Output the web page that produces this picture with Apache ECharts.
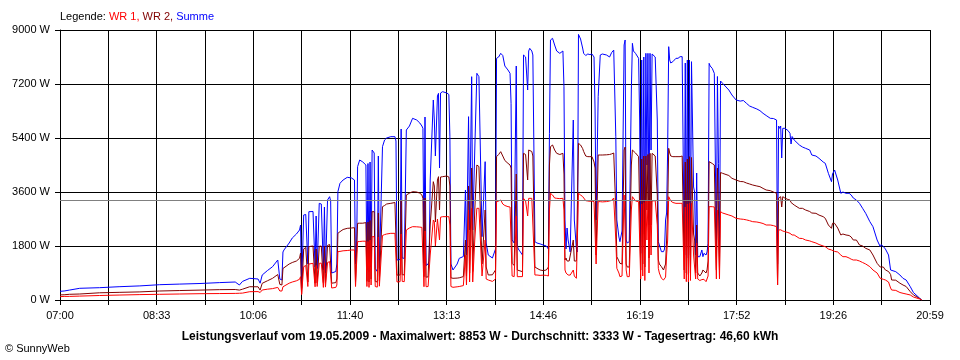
<!DOCTYPE html>
<html>
<head>
<meta charset="utf-8">
<script src="https://cdn.jsdelivr.net/npm/echarts@6/dist/echarts.min.js"></script>
<style>
html,body{margin:0;padding:0;background:#fff;}
#chart{width:960px;height:360px;}
</style>
</head>
<body>
<div id="chart"></div>
<script>
// ---- data ----
const times = [
'07:00','07:04','07:09','07:19','07:38','07:57','08:17','08:36','08:55','09:15',
'09:34','09:49','09:53','09:56','10:03','10:11','10:13','10:15','10:20','10:25',
'10:30','10:32','10:34','10:35','10:36','10:41','10:44','10:48','10:51','10:52',
'10:53','10:55','10:57','10:59','11:00','11:04','11:06','11:07','11:08','11:10',
'11:12','11:14','11:15','11:16','11:18','11:20','11:21','11:22','11:26','11:27',
'11:28','11:30','11:33','11:37','11:41','11:44','11:45','11:46','11:47','11:49',
'11:52','11:55','11:56','11:57','11:58','11:59','12:00','12:01','12:03','12:04',
'12:06','12:07','12:08','12:09','12:11','12:13','12:15','12:19','12:23','12:24',
'12:25','12:28','12:29','12:30','12:32','12:33','12:34','12:37','12:40','12:44',
'12:47','12:49','12:50','12:51','12:52','12:53','12:55','12:56','12:57','13:00',
'13:01','13:02','13:04','13:05','13:06','13:07','13:09','13:13','13:15','13:16',
'13:17','13:19','13:23','13:25','13:29','13:31','13:32','13:34','13:35','13:37',
'13:38','13:40','13:42','13:44','13:45','13:47','13:50','13:51','13:53','13:54',
'13:57','14:00','14:01','14:03','14:05','14:07','14:09','14:12','14:14','14:15',
'14:16','14:18','14:20','14:21','14:22','14:26','14:27','14:29','14:31','14:32',
'14:33','14:35','14:36','14:38','14:40','14:43','14:46','14:49','14:51','14:52',
'14:53','14:55','14:57','14:59','15:02','15:05','15:06','15:07','15:08','15:09',
'15:10','15:11','15:12','15:15','15:16','15:18','15:19','15:20','15:22','15:24',
'15:25','15:27','15:29','15:31','15:33','15:35','15:36','15:37','15:39','15:41',
'15:43','15:47','15:50','15:52','15:54','15:55','15:56','15:57','15:59','16:00',
'16:02','16:04','16:05','16:06','16:07','16:09','16:11','16:12','16:13','16:15',
'16:18','16:19','16:20','16:21','16:22','16:23','16:24','16:25','16:26','16:27',
'16:28','16:29','16:30','16:31','16:32','16:34','16:35','16:36','16:37','16:38',
'16:40','16:42','16:43','16:44','16:45','16:46','16:47','16:48','16:49','16:51',
'16:54','16:56','16:58','16:59','17:00','17:01','17:02','17:03','17:04','17:05',
'17:06','17:07','17:08','17:09','17:10','17:11','17:12','17:13','17:14','17:15',
'17:17','17:18','17:19','17:20','17:21','17:23','17:24','17:25','17:26','17:27',
'17:29','17:31','17:32','17:33','17:34','17:35','17:36','17:37','17:39','17:45',
'17:48','17:52','17:56','17:59','18:02','18:05','18:08','18:12','18:15','18:18',
'18:21','18:25','18:28','18:31','18:32','18:33','18:34','18:35','18:36','18:37',
'18:39','18:42','18:44','18:45','18:46','18:48','18:53','18:56','18:59','19:03',
'19:05','19:09','19:12','19:16','19:18','19:21','19:24','19:25','19:27','19:30',
'19:33','19:35','19:38','19:41','19:43','19:45','19:48','19:51','19:54','19:57',
'20:01','20:04','20:08','20:11','20:12','20:14','20:16','20:19','20:21','20:22',
'20:26','20:30','20:33','20:36','20:40','20:43','20:49','20:51'
];
const wr1 = [
110,120,120,130,150,165,180,190,200,210,
215,220,225,230,277,280,250,333,360,380,
420,300,300,440,443,560,600,640,690,777,
180,1110,1150,450,1200,1222,440,1150,450,1222,
1230,420,1240,430,1250,1280,1250,400,420,500,
1611,1620,1640,1650,1667,1667,450,500,1944,1950,
1960,1960,450,1950,420,2000,500,2111,2111,450,
430,2100,460,420,2150,2180,2200,2222,2222,2200,
600,611,2200,620,611,620,2333,2400,2444,2440,
2430,2420,2400,443,2300,443,450,480,1500,2667,
2600,1800,2700,2750,2000,2760,2778,2778,2778,2500,
450,423,440,450,480,1500,500,3000,600,3056,
600,2000,3056,3056,3000,800,2000,700,667,611,
620,700,3278,3300,3333,3200,3150,3111,3100,3050,
800,780,2800,777,780,780,3389,3300,2800,3389,
3389,3389,3350,833,833,820,830,820,800,3000,
3556,3500,3400,3389,3380,3389,3000,1000,900,850,
833,830,830,1000,800,723,723,3556,3500,3450,
3389,3311,3300,3290,3300,3280,3278,1200,3278,3278,
3270,3280,3300,3320,3400,3444,2000,1056,900,777,
800,3500,3500,1000,777,780,3000,3444,3400,3300,
3278,2000,700,3200,800,3250,650,3300,2000,3300,
900,3300,1500,3300,3320,3311,3300,2500,1056,900,
723,667,700,760,1500,2000,3444,3400,3300,3250,
3222,3222,3222,3222,3222,3222,700,3100,611,3200,
600,3222,650,3222,3200,1500,1500,700,1900,700,
650,611,680,700,690,611,667,800,3111,3150,
3111,3100,3050,700,3000,2000,700,2944,2900,2833,
2800,2722,2700,2690,2670,2644,2611,2600,2578,2550,
2500,2500,2480,2444,500,2333,2333,2340,2300,2300,
2278,2250,2222,2200,2167,2167,2056,2050,2000,1970,
1944,1900,1850,1800,1778,1700,1667,1640,1620,1600,
1500,1444,1444,1400,1360,1333,1333,1300,1250,1200,
1111,1000,900,723,700,690,667,600,400,333,
320,250,223,200,167,100,33,0
];
const wr2 = [
170,175,190,200,240,255,270,300,315,330,
345,350,330,360,443,440,330,556,640,723,
850,520,500,1050,1110,1200,1250,1300,1390,1567,
200,1700,1750,600,1780,1800,560,1700,570,1790,
1800,580,1800,560,1820,1850,1800,560,580,700,
2222,2278,2350,2389,2400,2410,600,650,2556,2560,
2560,2580,620,2600,600,2650,700,2944,2944,620,
600,2900,640,600,3111,3150,3200,3222,3250,3200,
830,833,3300,840,840,850,3500,3560,3611,3600,
3560,3500,3389,777,3400,760,770,800,2500,3944,
3800,2600,4000,4111,3000,4100,4111,4133,4100,3800,
740,723,730,740,780,2000,800,3800,900,4400,
950,3000,4500,4450,4400,1200,3000,1100,833,833,
840,1000,4778,4850,4944,4800,4650,4556,4500,4400,
1222,1150,4200,1000,960,944,4889,4850,4000,5000,
5000,4950,4800,1100,1056,1000,980,1000,1100,4500,
5111,5167,5000,4889,4850,4889,4200,1333,1400,1300,
1350,1300,1300,2000,1300,1300,1250,5222,5167,5050,
4950,4800,4778,4778,4780,4600,4400,1500,4833,4833,
4833,4840,4850,4870,4900,4950,3000,1444,1300,1222,
1200,5000,5100,1200,1100,1100,4500,5000,4950,4900,
4778,3000,1000,4700,1200,4800,1100,4800,3000,4850,
1400,4889,2500,4889,4850,4800,4800,3500,1333,1200,
1110,1000,1050,1200,2000,3000,5056,4900,4800,4778,
4778,4778,4778,4790,4800,4778,1000,4600,900,4700,
850,4778,900,4750,4700,2200,2000,900,2500,900,
800,800,900,1000,1000,900,1000,1300,4611,4600,
4550,4500,4480,1000,4400,3000,1000,4250,4222,4150,
4056,4000,3950,3944,3900,3867,3833,3800,3778,3720,
3667,3644,3600,3556,500,3400,3450,3444,3100,3444,
3400,3350,3333,3250,3222,3167,3056,3056,3000,2950,
2900,2889,2830,2778,2722,2500,2389,2556,2556,2400,
2167,2200,2167,2150,2100,2000,2000,1833,1800,1722,
1667,1500,1222,1100,1056,1100,1000,950,850,667,
660,560,500,450,277,170,50,0
];
const summe = [
290,300,330,390,410,443,470,510,530,550,
580,600,500,620,723,700,560,833,980,1110,
1333,700,667,1600,1667,1900,2067,2200,2333,2500,
390,2833,2850,1200,2944,2950,1100,2800,1050,3222,
3200,1000,3100,900,3333,3444,3300,900,950,1200,
3611,3889,4000,4089,4070,4000,1200,1600,4444,4667,
4600,4500,1000,4550,950,4600,1100,5000,4900,1050,
950,4800,1050,1000,5111,5333,5400,5444,5444,5300,
1333,1350,5700,1400,1389,1400,5667,5800,6056,6000,
5900,5800,5722,1222,6100,1150,1200,1300,4000,6667,
6000,4800,6800,6889,4400,6900,6944,6900,6850,5444,
1200,1000,1200,1389,1450,3667,1500,6111,2333,7444,
2333,5000,7556,7444,7389,2111,4611,1900,1500,1444,
1400,1700,8056,8100,8222,8150,7800,7667,7556,6556,
2000,1900,7800,1800,1700,1500,8167,8100,7000,8300,
8389,8300,8167,1944,1900,1870,1833,1800,1700,5556,
8667,8722,8500,8300,8222,8300,7111,2667,1700,2400,
2000,1800,1600,6000,2667,1700,1600,8853,8700,8400,
8222,8150,8200,8180,8200,8100,6333,2667,6778,8167,
8200,8167,8100,8250,8330,8389,5444,2667,2100,1944,
2300,8500,8667,2000,1900,1944,7000,8556,8300,8222,
8056,6000,1556,8000,2200,8100,1700,8222,4500,8222,
2500,8222,5000,8200,8150,8100,8056,6000,1944,1900,
1611,1611,1700,2667,2900,5000,8444,8000,7900,7944,
8056,8056,8111,8111,8111,8100,1600,7900,1500,8000,
1400,8000,1500,7944,7944,3767,3600,1500,4233,1444,
1444,1500,1667,1444,1556,1500,1600,1889,7889,7800,
7722,7556,7500,1667,7450,4556,1444,7300,7222,7000,
6833,6667,6630,6650,6556,6467,6422,6367,6311,6222,
6150,6056,6050,6000,1200,5800,5722,5800,4733,5722,
5722,5650,5556,5200,5450,5333,5167,5100,5056,5000,
4833,4800,4722,4600,4556,4222,3944,4200,4333,4000,
3556,3600,3556,3556,3500,3400,3333,3222,3056,2889,
2611,2444,2000,1778,1850,1780,1700,1500,1000,1000,
944,833,720,667,443,250,60,0
];
const tickLabels = ['07:00','08:33','10:06','11:40','13:13','14:46','16:19','17:52','19:26','20:59'];
const durchschnitt = 3333;
const titleText = 'Leistungsverlauf vom 19.05.2009 - Maximalwert: 8853 W - Durchschnitt: 3333 W - Tagesertrag: 46,60 kWh';
const seriesNames = ['WR 1', 'WR 2', 'Summe'];

// ---- chart ----
const FONT = '"Liberation Sans", Arial, sans-serif';
const startMin = 7 * 60;
const endMin = 20 * 60 + 59;
const steps = 18;               // grid lines (labels on every second one)
function toUnit(s) {
  const p = s.split(':');
  const m = (+p[0]) * 60 + (+p[1]);
  return (m - startMin) * steps / (endMin - startMin);
}
const n = Math.min(times.length, wr1.length, wr2.length, summe.length);
function pairs(arr) {
  const out = [];
  for (let i = 0; i < n; i++) out.push([toUnit(times[i]), arr[i]]);
  return out;
}

const chart = echarts.init(document.getElementById('chart'), null, {renderer: 'canvas'});
chart.setOption({
  animation: false,
  backgroundColor: '#ffffff',
  textStyle: {fontFamily: FONT},
  title: [
    {
      text: '{k|Legende: }{a|' + seriesNames[0] + ', }{b|' + seriesNames[1] + ', }{c|' + seriesNames[2] + '}',
      left: 60, top: 11, padding: 0,
      textStyle: {
        fontSize: 11, fontWeight: 'normal', fontFamily: FONT,
        rich: {
          k: {color: '#000000', fontSize: 11, fontWeight: 'normal', fontFamily: FONT},
          a: {color: '#ff0000', fontSize: 11, fontWeight: 'normal', fontFamily: FONT},
          b: {color: '#800000', fontSize: 11, fontWeight: 'normal', fontFamily: FONT},
          c: {color: '#0000ff', fontSize: 11, fontWeight: 'normal', fontFamily: FONT}
        }
      }
    },
    {
      text: titleText,
      left: 'center', top: 331, padding: 0,
      textStyle: {fontSize: 12, fontWeight: 'bold', color: '#000', fontFamily: FONT}
    },
    {
      text: '© SunnyWeb',
      left: 5, top: 343, padding: 0,
      textStyle: {fontSize: 11, fontWeight: 'normal', color: '#000', fontFamily: FONT}
    }
  ],
  grid: {left: 60, right: 30, top: 30, bottom: 60, containLabel: false},
  xAxis: {
    type: 'value', min: 0, max: steps, interval: 1,
    axisLine: {show: true, lineStyle: {color: '#000', width: 1}},
    axisTick: {show: true, length: 5, inside: false, lineStyle: {color: '#000', width: 1}},
    splitLine: {show: true, lineStyle: {color: '#000', width: 1}},
    axisLabel: {
      color: '#000', fontSize: 11, fontFamily: FONT, margin: 10,
      showMinLabel: true, showMaxLabel: true,
      formatter: function (v) {
        const i = Math.round(v);
        return i % 2 === 0 ? (tickLabels[i / 2] || '') : '';
      }
    }
  },
  yAxis: {
    type: 'value', min: 0, max: 9000, interval: 1800,
    axisLine: {show: true, lineStyle: {color: '#000', width: 1}},
    axisTick: {show: true, length: 5, inside: false, lineStyle: {color: '#000', width: 1}},
    splitLine: {show: true, lineStyle: {color: '#000', width: 1}},
    axisLabel: {color: '#000', fontSize: 11, fontFamily: FONT, margin: 10,
      formatter: function (v) { return String(v) + ' W'; }}
  },
  series: [
    {name: seriesNames[2], type: 'line', data: pairs(summe), showSymbol: false, symbol: 'none',
     lineStyle: {color: '#0000ff', width: 1}, itemStyle: {color: '#0000ff'}, z: 2},
    {name: seriesNames[1], type: 'line', data: pairs(wr2), showSymbol: false, symbol: 'none',
     lineStyle: {color: '#800000', width: 1}, itemStyle: {color: '#800000'}, z: 3},
    {name: seriesNames[0], type: 'line', data: pairs(wr1), showSymbol: false, symbol: 'none',
     lineStyle: {color: '#ff0000', width: 1}, itemStyle: {color: '#ff0000'}, z: 4},
    {name: 'Durchschnitt', type: 'line', data: [], z: 5, silent: true,
     markLine: {silent: true, symbol: ['none', 'none'], label: {show: false},
       lineStyle: {color: '#808080', type: 'solid', width: 1},
       data: [{yAxis: durchschnitt}]}}
  ]
});
</script>
</body>
</html>
